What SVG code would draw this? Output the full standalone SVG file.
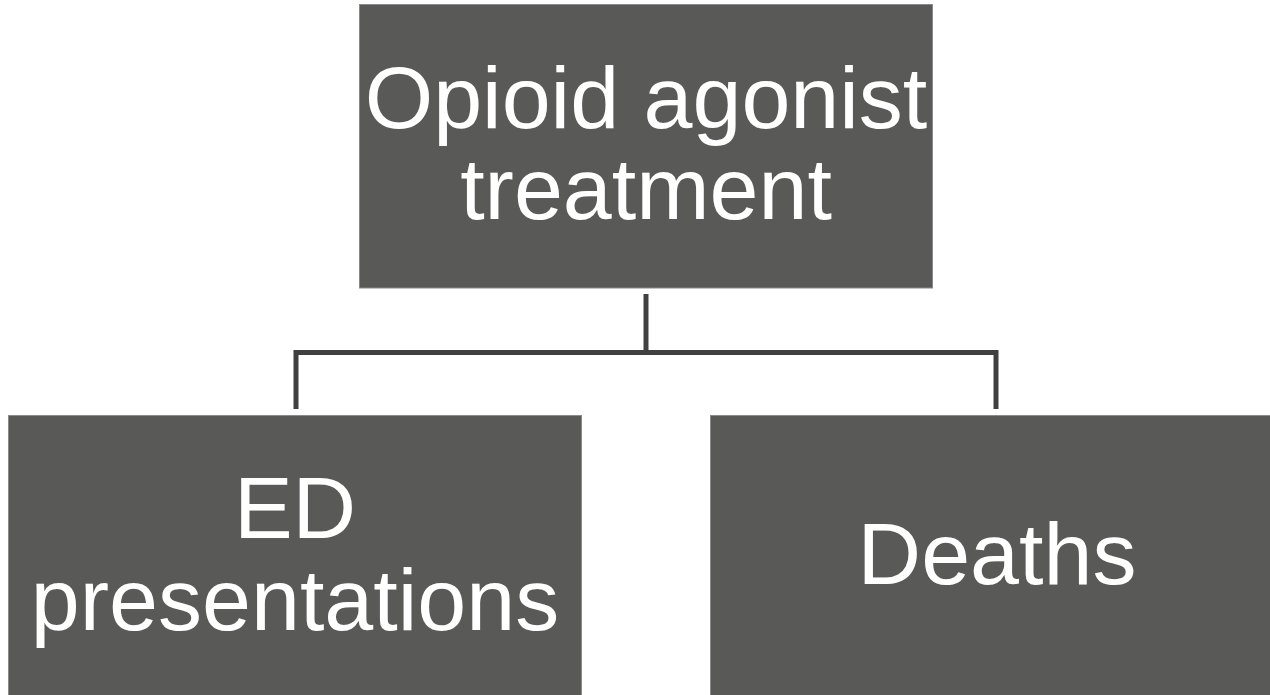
<svg xmlns="http://www.w3.org/2000/svg" width="1270" height="695" viewBox="0 0 1270 695">
<style>
.box{fill:#595957;stroke:#8a8a8a;stroke-width:1}
.lbl{font-family:"Liberation Sans",Arial,sans-serif;font-size:88px;fill:#ffffff;text-anchor:middle}
.conn{fill:none;stroke:#404040;stroke-width:5;stroke-linejoin:miter}
</style>
<rect width="1270" height="695" fill="#ffffff"/>
<g id="connectors">
<line class="conn" x1="646" y1="294" x2="646" y2="352"/>
<polyline class="conn" points="296,409 296,352.5 996,352.5 996,409"/>
</g>
<g id="node-oat">
<rect class="box" x="359.5" y="4.5" width="573" height="283.5"/>
<text class="lbl" x="646" y="128">Opioid agonist</text>
<text class="lbl" x="646" y="219">treatment</text>
</g>
<g id="node-ed">
<rect class="box" x="8.5" y="415.5" width="573" height="290"/>
<text class="lbl" x="295" y="538">ED</text>
<text class="lbl" x="295" y="630">presentations</text>
</g>
<g id="node-deaths">
<rect class="box" x="710.5" y="415.5" width="573" height="290"/>
<text class="lbl" x="997" y="584">Deaths</text>
</g>
</svg>
